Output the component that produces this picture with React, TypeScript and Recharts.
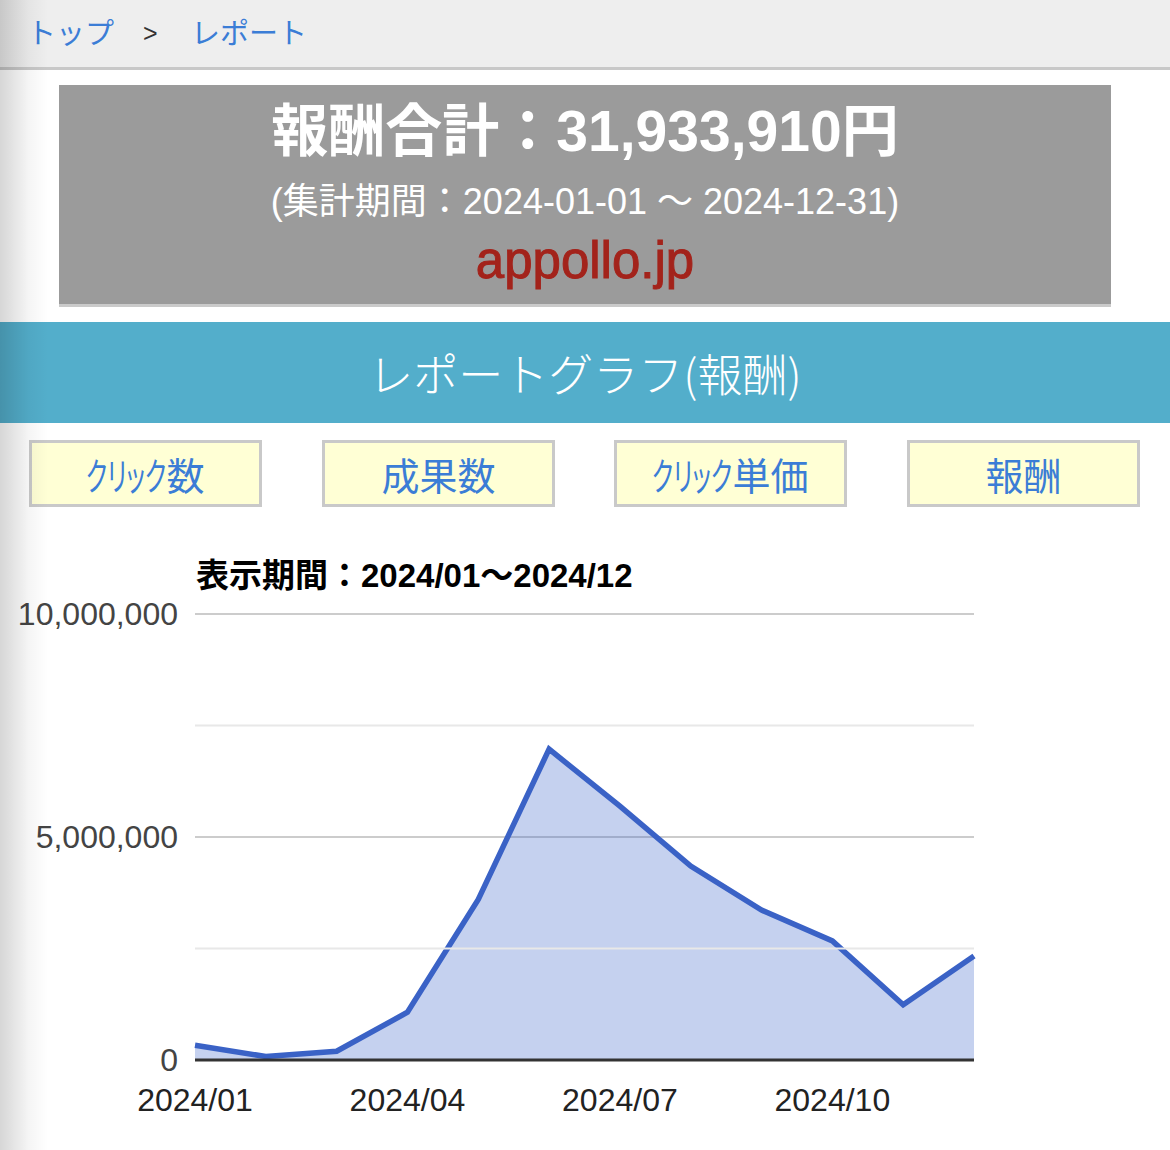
import React from "react";
import { AreaChart, Area, XAxis, YAxis, CartesianGrid, ReferenceLine } from "recharts";

const months = ["2024/01", "2024/02", "2024/03", "2024/04", "2024/05", "2024/06", "2024/07", "2024/08", "2024/09", "2024/10", "2024/11", "2024/12"];
const rewards = [332000, 78000, 197000, 1070000, 3600000, 6970000, 5690000, 4350000, 3360000, 2670000, 1240000, 2330000];
const yTicks = [0, 5000000, 10000000];
const minorLines = [2500000, 7500000];
const buttonKana = ["クリック", "", "クリック", ""];
const buttonKanji = ["数", "成果数", "単価", "報酬"];
const buttonLefts = [29, 322, 614, 907];

const data = months.map((m, i) => ({ month: m, reward: rewards[i] }));

const cjk = '"Noto Sans CJK JP", sans-serif';
const mixed = '"Liberation Sans", "Noto Sans CJK JP", sans-serif';
const linkBlue = "#3b7dd6";

const fmt = (v: number) => v.toLocaleString("en-US");

export default function App() {
  return (
    <div style={{ position: "absolute", left: 0, top: 0, width: 1170, height: 1150, background: "#fff", overflow: "hidden" }}>
      {/* breadcrumb */}
      <div style={{ position: "absolute", left: 0, top: 0, width: 1170, height: 67, background: "#eeeeee", borderBottom: "3px solid #c8c8c8" }}>
        <span style={{ position: "absolute", left: 27, top: 11, fontFamily: cjk, fontSize: 29, lineHeight: "40px", color: linkBlue }}>トップ</span>
        <span style={{ position: "absolute", left: 143, top: 13, fontFamily: mixed, fontSize: 25, lineHeight: "40px", color: "#333" }}>&gt;</span>
        <span style={{ position: "absolute", left: 191, top: 11, fontFamily: cjk, fontSize: 29, lineHeight: "40px", color: linkBlue }}>レポート</span>
      </div>

      {/* summary box */}
      <div style={{ position: "absolute", left: 59, top: 85, width: 1052, height: 219, background: "#9b9b9b", borderBottom: "3px solid #cacaca", textAlign: "center", color: "#fff" }}>
        <div style={{ position: "absolute", left: 0, right: 0, top: 12, fontFamily: mixed, fontWeight: 700, fontSize: 57, lineHeight: "68px" }}>報酬合計：31,933,910円</div>
        <div style={{ position: "absolute", left: 0, right: 0, top: 95, fontFamily: mixed, fontWeight: 400, fontSize: 36, lineHeight: "44px" }}>(集計期間：2024-01-01 ～ 2024-12-31)</div>
        <div style={{ position: "absolute", left: 0, right: 0, top: 146, fontFamily: mixed, fontSize: 51, lineHeight: "60px", color: "#a3231b", WebkitTextStroke: "1px #a3231b" }}>appollo.jp</div>
      </div>

      {/* title bar */}
      <div style={{ position: "absolute", left: 0, top: 322, width: 1170, height: 101, background: "#53aecb", textAlign: "center", color: "#fff", fontFamily: cjk, fontWeight: 300, fontSize: 45, lineHeight: "101px" }}>
        レポートグラフ(報酬)
      </div>

      {/* buttons */}
      {buttonKanji.map((k, i) => (
        <div key={i} style={{ position: "absolute", left: buttonLefts[i], top: 440, width: 227, height: 61, background: "#ffffd5", border: "3px solid #c9c9c9", textAlign: "center", fontFamily: cjk, fontSize: 38, lineHeight: "61px", color: linkBlue, whiteSpace: "nowrap" }}>
          {buttonKana[i] ? (
            <span style={{ display: "inline-block", width: 80, verticalAlign: "top", textAlign: "left" }}>
              <span style={{ display: "inline-block", transform: "scaleX(0.62)", transformOrigin: "left center", fontFeatureSettings: '"palt"' }}>{buttonKana[i]}</span>
            </span>
          ) : null}
          <span>{k}</span>
        </div>
      ))}

      {/* chart title */}
      <div style={{ position: "absolute", left: 196, top: 556, fontFamily: mixed, fontWeight: 700, fontSize: 33, lineHeight: "40px", color: "#000" }}>
        表示期間：2024/01～2024/12
      </div>

      {/* chart */}
      <div style={{ position: "absolute", left: 0, top: 590 }}>
        <AreaChart width={1170} height={540} data={data} margin={{ top: 24, right: 196, bottom: 10, left: 0 }}>
          <CartesianGrid horizontal vertical={false} stroke="#cccccc" strokeWidth={2} />
          {minorLines.map((v) => (
            <ReferenceLine key={v} y={v} stroke="#e8e8e8" strokeWidth={2} />
          ))}
          <XAxis
            dataKey="month"
            interval={2}
            tickLine={false}
            tickSize={0}
            tickMargin={28}
            axisLine={{ stroke: "#333", strokeWidth: 3 }}
            tick={{ fill: "#222", fontSize: 32, fontFamily: '"Liberation Sans", sans-serif' }}
            height={60}
          />
          <YAxis
            domain={[0, 10000000]}
            ticks={yTicks}
            tickFormatter={fmt}
            axisLine={false}
            tickLine={false}
            tickSize={0}
            tickMargin={17}
            width={195}
            tick={{ fill: "#444", fontSize: 32, fontFamily: '"Liberation Sans", sans-serif' }}
          />
          <Area
            type="linear"
            dataKey="reward"
            stroke="#3a62c6"
            strokeWidth={5.5}
            fill="#3660c8"
            fillOpacity={0.29}
            isAnimationActive={false}
            dot={false}
            activeDot={false}
          />
        </AreaChart>
      </div>

      {/* left page shadow */}
      <div style={{ position: "absolute", left: 0, top: 0, width: 48, height: 1150, background: "linear-gradient(to right, rgba(0,0,0,0.16), rgba(0,0,0,0.04) 60%, rgba(0,0,0,0))", pointerEvents: "none" }} />
    </div>
  );
}
